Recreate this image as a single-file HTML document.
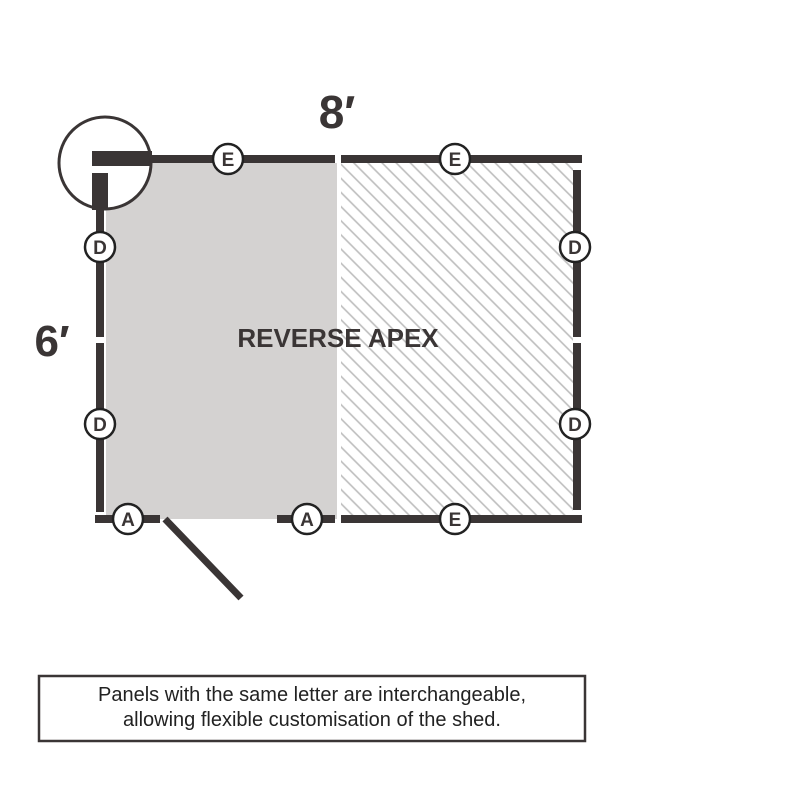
<!DOCTYPE html>
<html><head><meta charset="utf-8"><style>
html,body{margin:0;padding:0;background:#fff;width:800px;height:800px;overflow:hidden}
</style></head><body>
<svg width="800" height="800" viewBox="0 0 800 800" xmlns="http://www.w3.org/2000/svg">
<defs>
<pattern id="h" patternUnits="userSpaceOnUse" width="10" height="10" patternTransform="rotate(45)">
<rect width="10" height="10" fill="#fff"/>
<line x1="0" y1="5" x2="10" y2="5" stroke="#bdbdbd" stroke-width="1.6"/>
</pattern>
</defs>
<rect x="106" y="163" width="231" height="356" fill="#d4d2d1"/>
<rect x="341" y="163" width="232" height="352" fill="url(#h)"/>
<circle cx="105" cy="163" r="46" fill="#fff"/>
<g fill="#3a3535">
<rect x="92" y="155" width="243" height="8"/>
<rect x="341" y="155" width="241" height="8"/>
<rect x="92" y="151" width="60" height="15"/>
<rect x="92" y="173" width="16" height="37"/>
<rect x="96" y="200" width="8" height="137"/>
<rect x="96" y="343" width="8" height="169"/>
<rect x="573" y="170" width="8" height="167"/>
<rect x="573" y="343" width="8" height="167"/>
<rect x="95" y="515" width="65" height="8"/>
<rect x="277" y="515" width="58" height="8"/>
<rect x="341" y="515" width="241" height="8"/>
</g>
<line x1="165" y1="519" x2="241" y2="598" stroke="#3a3535" stroke-width="7"/>
<circle cx="105" cy="163" r="46" fill="none" stroke="#3a3535" stroke-width="3"/>
<g font-family="Liberation Sans, sans-serif" font-weight="bold" font-size="19" fill="#3a3535" text-anchor="middle">
<g stroke="#222" stroke-width="2.5" fill="#fff">
<circle cx="228" cy="159" r="15"/><circle cx="455" cy="159" r="15"/>
<circle cx="100" cy="247" r="15"/><circle cx="100" cy="424" r="15"/>
<circle cx="575" cy="247" r="15"/><circle cx="575" cy="424" r="15"/>
<circle cx="128" cy="519" r="15"/><circle cx="307" cy="519" r="15"/>
<circle cx="455" cy="519" r="15"/>
</g>
<text x="228" y="166">E</text><text x="455" y="166">E</text>
<text x="100" y="254">D</text><text x="100" y="431">D</text>
<text x="575" y="254">D</text><text x="575" y="431">D</text>
<text x="128" y="526">A</text><text x="307" y="526">A</text>
<text x="455" y="526">E</text>
<text x="337" y="128" font-size="46">8′</text>
<text x="52" y="356" font-size="44">6′</text>
<text x="338" y="347" font-size="26">REVERSE APEX</text>
</g>
<rect x="39" y="676" width="546" height="65" fill="#fff" stroke="#3a3535" stroke-width="2.5"/>
<g font-family="Liberation Sans, sans-serif" font-size="20" fill="#222" text-anchor="middle">
<text x="312" y="701">Panels with the same letter are interchangeable,</text>
<text x="312" y="726">allowing flexible customisation of the shed.</text>
</g>
</svg>
</body></html>
